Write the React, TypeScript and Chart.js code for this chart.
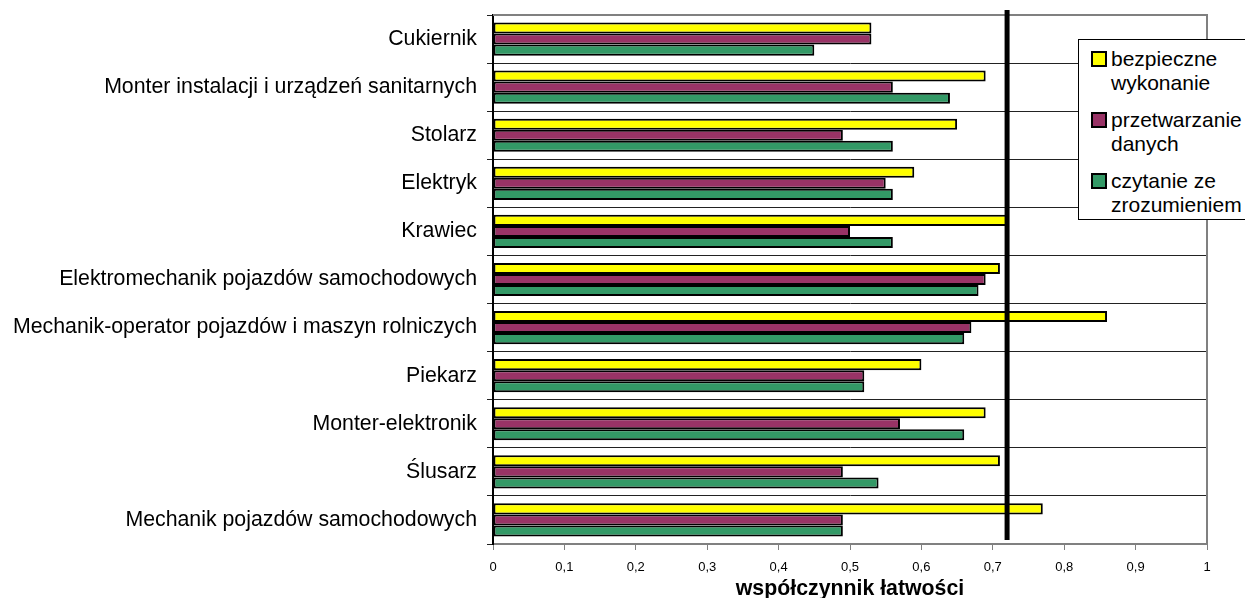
import React, { useEffect, useRef } from "react";
import { Chart, registerables } from "chart.js";

Chart.register(...registerables);

const FONT = '"Liberation Sans", Arial, sans-serif';

const CATEGORIES = [
  "Cukiernik",
  "Monter instalacji i urządzeń sanitarnych",
  "Stolarz",
  "Elektryk",
  "Krawiec",
  "Elektromechanik pojazdów samochodowych",
  "Mechanik-operator pojazdów i maszyn rolniczych",
  "Piekarz",
  "Monter-elektronik",
  "Ślusarz",
  "Mechanik pojazdów samochodowych",
];

const SAFE_EXECUTION = [0.53, 0.69, 0.65, 0.59, 0.72, 0.71, 0.86, 0.6, 0.69, 0.71, 0.77];
const DATA_PROCESSING = [0.53, 0.56, 0.49, 0.55, 0.5, 0.69, 0.67, 0.52, 0.57, 0.49, 0.49];
const READING = [0.45, 0.64, 0.56, 0.56, 0.56, 0.68, 0.66, 0.52, 0.66, 0.54, 0.49];

const SERIES_NAMES = [
  ["bezpieczne", "wykonanie"],
  ["przetwarzanie", "danych"],
  ["czytanie ze", "zrozumieniem"],
];
const SERIES_COLORS = ["#FFFF00", "#993366", "#339966"];

const X_TICK_LABELS = ["0", "0,1", "0,2", "0,3", "0,4", "0,5", "0,6", "0,7", "0,8", "0,9", "1"];
const X_TITLE = "współczynnik łatwości";
const THRESHOLD = [0.72];

const framePlugin = {
  id: "frameAndThreshold",
  afterDatasetsDraw(chart: any) {
    const { ctx, chartArea } = chart;
    const xs = chart.scales.x;
    ctx.save();
    ctx.strokeStyle = "#808080";
    ctx.lineWidth = 2;
    ctx.beginPath();
    ctx.moveTo(chartArea.left, chartArea.top);
    ctx.lineTo(chartArea.right, chartArea.top);
    ctx.lineTo(chartArea.right, chartArea.bottom);
    ctx.stroke();
    const x = xs.getPixelForValue(THRESHOLD[0]);
    ctx.strokeStyle = "#000";
    ctx.lineWidth = 5;
    ctx.beginPath();
    ctx.moveTo(x, chartArea.top - 5);
    ctx.lineTo(x, chartArea.bottom - 4);
    ctx.stroke();
    ctx.restore();
  },
};

export default function App() {
  const canvasRef = useRef<HTMLCanvasElement | null>(null);

  useEffect(() => {
    if (!canvasRef.current) return;
    const seriesData = [SAFE_EXECUTION, DATA_PROCESSING, READING];
    const chart = new Chart(canvasRef.current, {
      type: "bar",
      data: {
        labels: CATEGORIES,
        datasets: seriesData.map((d, i) => ({
          label: SERIES_NAMES[i].join(" "),
          data: d,
          backgroundColor: SERIES_COLORS[i],
          borderColor: "#000",
          borderWidth: 2,
          borderSkipped: false,
          categoryPercentage: 0.69,
          barPercentage: 1.0,
        })),
      },
      options: {
        indexAxis: "y",
        animation: false,
        responsive: false,
        devicePixelRatio: 1,
        layout: { padding: { top: 15, right: 38, bottom: 0, left: 0 } },
        plugins: {
          legend: { display: false },
          tooltip: { enabled: false },
        },
        scales: {
          x: {
            type: "linear",
            min: 0,
            max: 1,
            position: "bottom",
            afterFit: (s: any) => {
              s.height = 54;
              s.paddingLeft = 0;
              s.paddingRight = 0;
            },
            ticks: {
              stepSize: 0.1,
              autoSkip: false,
              maxRotation: 0,
              padding: 10,
              color: "#000",
              font: { size: 13, family: FONT },
              callback: (v: any, i: number) => X_TICK_LABELS[i] ?? String(v),
            },
            grid: {
              drawOnChartArea: false,
              drawTicks: true,
              tickLength: 6,
              color: "#808080",
              lineWidth: 1,
            },
            border: { color: "#808080", width: 2 },
            title: {
              display: true,
              text: X_TITLE,
              color: "#000",
              font: { size: 21.3, weight: "bold", family: FONT },
              padding: { top: 0, bottom: -4 },
            },
          },
          y: {
            type: "category",
            afterFit: (s: any) => {
              s.width = 493;
              s.paddingTop = 0;
              s.paddingBottom = 0;
            },
            ticks: {
              color: "#000",
              padding: 10,
              autoSkip: false,
              font: { size: 21.3, family: FONT },
            },
            grid: {
              offset: true,
              color: "#222",
              lineWidth: 1,
              tickLength: 6,
              drawTicks: true,
            },
            border: { color: "#000", width: 2 },
          },
        },
      },
      plugins: [framePlugin],
    } as any);
    return () => chart.destroy();
  }, []);

  return (
    <div
      style={{
        position: "fixed",
        left: 0,
        top: 0,
        width: 1245,
        height: 598,
        overflow: "hidden",
        background: "#fff",
      }}
    >
      <canvas ref={canvasRef} width={1245} height={598} style={{ display: "block" }} />
      <div
        style={{
          position: "absolute",
          left: 1078,
          top: 39,
          width: 190,
          height: 181,
          boxSizing: "border-box",
          border: "1px solid #000",
          background: "#fff",
          fontFamily: FONT,
          fontSize: 21,
          lineHeight: "24px",
          color: "#000",
          paddingTop: 7,
        }}
      >
        {SERIES_NAMES.map((lines, i) => (
          <div
            key={i}
            style={{ position: "relative", paddingLeft: 32, marginTop: i === 0 ? 0 : 13 }}
          >
            <span
              style={{
                position: "absolute",
                left: 12,
                top: 4,
                width: 16,
                height: 16,
                boxSizing: "border-box",
                border: "2px solid #000",
                background: SERIES_COLORS[i],
              }}
            />
            {lines.map((l, j) => (
              <div key={j} style={{ whiteSpace: "nowrap" }}>
                {l}
              </div>
            ))}
          </div>
        ))}
      </div>
    </div>
  );
}
